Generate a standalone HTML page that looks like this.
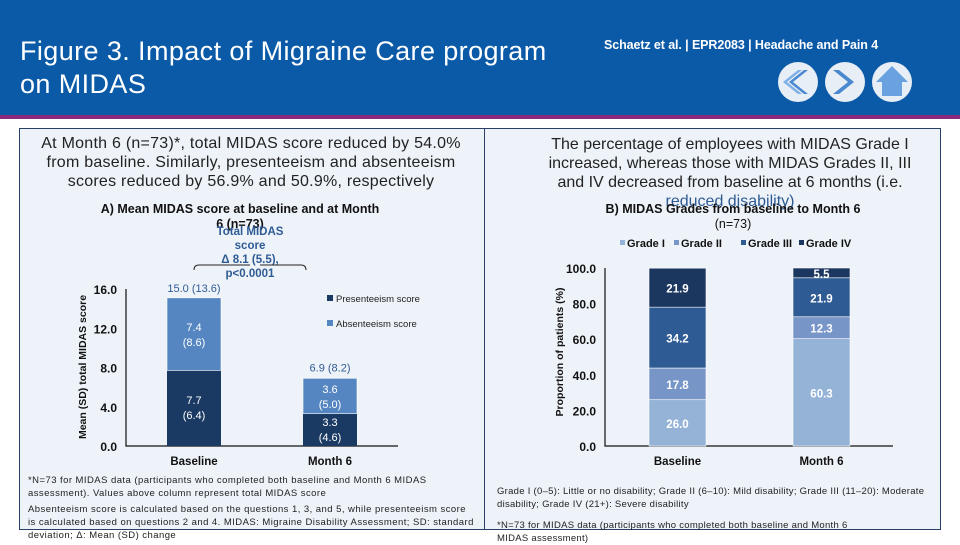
<!DOCTYPE html>
<html><head><meta charset="utf-8">
<style>
body{margin:0;width:960px;height:540px;overflow:hidden;background:#fff;font-family:"Liberation Sans",Arial,sans-serif;position:relative}
.hdr{position:absolute;left:0;top:0;width:960px;height:115px;background:#0a5aa8}
.pl{position:absolute;left:0;top:115px;width:960px;height:4px;background:#8a2a7a}
.panel{position:absolute;top:128px;height:400px;background:#eef3f9;border:1px solid #2a3f66}
svg text{font-family:"Liberation Sans",Arial,sans-serif}
.nw{white-space:nowrap}
</style></head><body>
<div class="hdr"></div>
<div class="pl"></div>
<div class="nw" style="position:absolute;left:20px;top:35px;color:#fff;font-size:27px;letter-spacing:0.4px;line-height:33px">Figure 3. Impact of Migraine Care program<br>on MIDAS</div>
<div style="position:absolute;left:604px;top:38px;color:#fff;font-size:12.5px;font-weight:bold;letter-spacing:-0.1px">Schaetz et al. | EPR2083 | Headache and Pain 4</div>
<svg style="position:absolute;left:778px;top:60px" width="140" height="44">
<g><circle cx="20" cy="22" r="20" fill="#e8eef6"/><path d="M30 10 L15 22 L30 34 L26 34 L11 22 L26 10Z" fill="#4a88d0"/><path d="M24 10 L9 22 L24 34 L20 34 L5 22 L20 10Z" fill="#7fb0e6"/></g>
<g><circle cx="67" cy="22" r="20" fill="#e8eef6"/><path d="M55 10 L70 22 L55 34 L61 34 L76 22 L61 10Z" fill="#4a88d0"/></g>
<g><circle cx="114" cy="22" r="20" fill="#e8eef6"/><path d="M114 6 L130 22 L124 22 L124 36 L104 36 L104 22 L98 22Z" fill="#6aa2e0"/></g>
</svg>
<div class="panel" style="left:19px;width:465px"></div>
<div class="panel" style="left:484px;width:455px"></div>
<div class="nw" style="position:absolute;left:20px;top:134px;width:462px;text-align:center;font-size:16px;letter-spacing:0.25px;line-height:19px;color:#222">At Month 6 (n=73)*, total MIDAS score reduced by 54.0%<br>from baseline. Similarly, presenteeism and absenteeism<br>scores reduced by 56.9% and 50.9%, respectively</div>
<div class="nw" style="position:absolute;left:500px;top:135px;width:460px;text-align:center;font-size:16px;line-height:19px;color:#222">The percentage of employees with MIDAS Grade I<br>increased, whereas those with MIDAS Grades II, III<br>and IV decreased from baseline at 6 months (i.e.<br><span style="color:#2f5b94">reduced disability)</span></div>
<div class="nw" style="position:absolute;left:28px;top:474px;font-size:9.5px;letter-spacing:0.45px;line-height:13px;color:#222">*N=73 for MIDAS data (participants who completed both baseline and Month 6 MIDAS<br>assessment). Values above column represent total MIDAS score<div style="height:3px"></div>Absenteeism score is calculated based on the questions 1, 3, and 5, while presenteeism score<br>is calculated based on questions 2 and 4. MIDAS: Migraine Disability Assessment; SD: standard<br>deviation; Δ: Mean (SD) change</div>
<div class="nw" style="position:absolute;left:497px;top:485px;font-size:9.5px;letter-spacing:0.28px;line-height:13px;color:#222">Grade I (0–5): Little or no disability; Grade II (6–10): Mild disability; Grade III (11–20): Moderate<br>disability; Grade IV (21+): Severe disability<div style="height:8px"></div>*N=73 for MIDAS data (participants who completed both baseline and Month 6<br>MIDAS assessment)</div>

<svg id="c1" style="position:absolute;left:0;top:0" width="480" height="470"></svg>
<svg id="c2" style="position:absolute;top:0;left:480px" width="480" height="470"></svg>
<script>
const catsA=["Baseline","Month 6"];
const presA=[7.7,3.3];
const presSD=["(6.4)","(4.6)"];
const absA=[7.4,3.6];
const absSD=["(8.6)","(5.0)"];
const totalA=["15.0 (13.6)","6.9 (8.2)"];
const totalVal=[15.0,6.9];
const ticksA=[0,4,8,12,16];
const catsB=["Baseline","Month 6"];
const gradeNames=["Grade I","Grade II","Grade III","Grade IV"];
const g1=[26.0,60.3];
const g2=[17.8,12.3];
const g3=[34.2,21.9];
const g4=[21.9,5.5];
const ticksB=[0,20,40,60,80,100];

const NS="http://www.w3.org/2000/svg";
function mk(p,t,a,txt){const e=document.createElementNS(NS,t);for(const k in a)e.setAttribute(k,a[k]);if(txt!=null)e.textContent=txt;p.appendChild(e);return e;}

// Chart A
const A=document.getElementById('c1');
const yA=v=>446-v*(157/16);
const xA=i=>167+i*136;
const bwA=54;
let t=mk(A,'text',{x:240,y:213,'text-anchor':'middle','font-size':12.5,'font-weight':'bold',fill:'#111'},'A) Mean MIDAS score at baseline and at Month');

t=mk(A,'text',{x:240,y:228,'text-anchor':'middle','font-size':12.5,'font-weight':'bold',fill:'#111'},'6 (n=73)');

const anno=['Total MIDAS','score','Δ 8.1 (5.5),','p<0.0001'];
anno.forEach((s,i)=>{const e=mk(A,'text',{x:250,y:235+i*14,'text-anchor':'middle','font-size':11.5,'font-weight':'bold',fill:'#2f5b94'},s);});
let br=mk(A,'path',{d:'M194 270 Q194 265 199 265 L250 265 M260 265 L301 265 Q306 265 306 270',stroke:'#222',fill:'none','stroke-width':1});

ticksA.forEach(v=>{const e=mk(A,'text',{x:117,y:yA(v)+5,'text-anchor':'end','font-size':12,'font-weight':'bold',fill:'#111'},v.toFixed(1));});
let ax=mk(A,'path',{d:`M126 ${yA(16)} L126 446 L398 446`,stroke:'#111',fill:'none','stroke-width':1.2});

let yt=mk(A,'text',{transform:'translate(86 367) rotate(-90)','text-anchor':'middle','font-size':10.5,'font-weight':'bold',fill:'#111'},'Mean (SD) total MIDAS score');

catsA.forEach((c,i)=>{
 const x=xA(i);
 let r=mk(A,'rect',{x:x,y:yA(presA[i]),width:bwA,height:yA(0)-yA(presA[i]),fill:'#1b3a63'});
 
 r=mk(A,'rect',{x:x,y:yA(presA[i]+absA[i]),width:bwA,height:yA(presA[i])-yA(presA[i]+absA[i]),fill:'#5586c2',stroke:'#fff','stroke-width':0.6});
 
 const pm=(yA(0)+yA(presA[i]))/2, am=(yA(presA[i])+yA(presA[i]+absA[i]))/2;
 [[presA[i].toFixed(1),pm-4],[presSD[i],pm+11]].forEach(([s,y])=>{const e=mk(A,'text',{x:x+bwA/2,y:y,'text-anchor':'middle','font-size':11,fill:'#fff'},s);});
 [[absA[i].toFixed(1),am-3],[absSD[i],am+12]].forEach(([s,y])=>{const e=mk(A,'text',{x:x+bwA/2,y:y,'text-anchor':'middle','font-size':11,fill:'#fff'},s);});
 let tl=mk(A,'text',{x:x+bwA/2,y:yA(totalVal[i])-7,'text-anchor':'middle','font-size':11,fill:'#2f5b94'},totalA[i]);
 
 let cl=mk(A,'text',{x:x+bwA/2,y:465,'text-anchor':'middle','font-size':11.5,'font-weight':'bold',fill:'#111'},c);
 
});
[['Presenteeism score','#1b3a63',301],['Absenteeism score','#5586c2',326]].forEach(([s,c,y])=>{
 const g=mk(A,'g',{});
 mk(g,'rect',{x:327,y:y-6,width:6,height:6,fill:c});
 mk(g,'text',{x:336,y:y+1,'font-size':9.5,fill:'#222'},s);
});

// Chart B
const B=document.getElementById('c2');
const ox=480;
const yB=v=>446-v*1.78;
const xB=i=>649-ox+i*144;
const bwB=57;
const cols=['#95b3d7','#7895c8','#2f5b94','#1b365f'];
const series=[g1,g2,g3,g4];
t=mk(B,'text',{x:733-ox,y:213,'text-anchor':'middle','font-size':12.5,'font-weight':'bold',fill:'#111'},'B) MIDAS Grades from baseline to Month 6');

t=mk(B,'text',{x:733-ox,y:228,'text-anchor':'middle','font-size':12.5,fill:'#111'},'(n=73)');

let lx=[627,681,748,806];
gradeNames.forEach((n,i)=>{
 const g=mk(B,'g',{});
 mk(g,'rect',{x:lx[i]-ox-7,y:240,width:5,height:5,fill:cols[i]});
 mk(g,'text',{x:lx[i]-ox,y:247,'font-size':11,'font-weight':'bold',fill:'#111'},n);
});
ticksB.forEach(v=>{const e=mk(B,'text',{x:596-ox,y:yB(v)+5,'text-anchor':'end','font-size':12,'font-weight':'bold',fill:'#111'},v.toFixed(1));});
ax=mk(B,'path',{d:`M${605-ox} ${yB(100)} L${605-ox} 446 L${893-ox} 446`,stroke:'#111',fill:'none','stroke-width':1.2});

yt=mk(B,'text',{transform:`translate(${563-ox} 352) rotate(-90)`,'text-anchor':'middle','font-size':10.5,'font-weight':'bold',fill:'#111'},'Proportion of patients (%)');

catsB.forEach((c,i)=>{
 const x=xB(i);let cum=0;
 series.forEach((s,k)=>{
  const v=s[i];
  let r=mk(B,'rect',{x:x,y:yB(cum+v),width:bwB,height:yB(cum)-yB(cum+v),fill:cols[k],stroke:'#fff','stroke-width':0.6});
  
  let l=mk(B,'text',{x:x+bwB/2,y:(yB(cum)+yB(cum+v))/2+5,'text-anchor':'middle','font-size':11.5,'font-weight':'bold',fill:'#fff'},v.toFixed(1));
  
  cum+=v;
 });
 let cl=mk(B,'text',{x:x+bwB/2,y:465,'text-anchor':'middle','font-size':11.5,'font-weight':'bold',fill:'#111'},c);
 
});
</script>
</body></html>
